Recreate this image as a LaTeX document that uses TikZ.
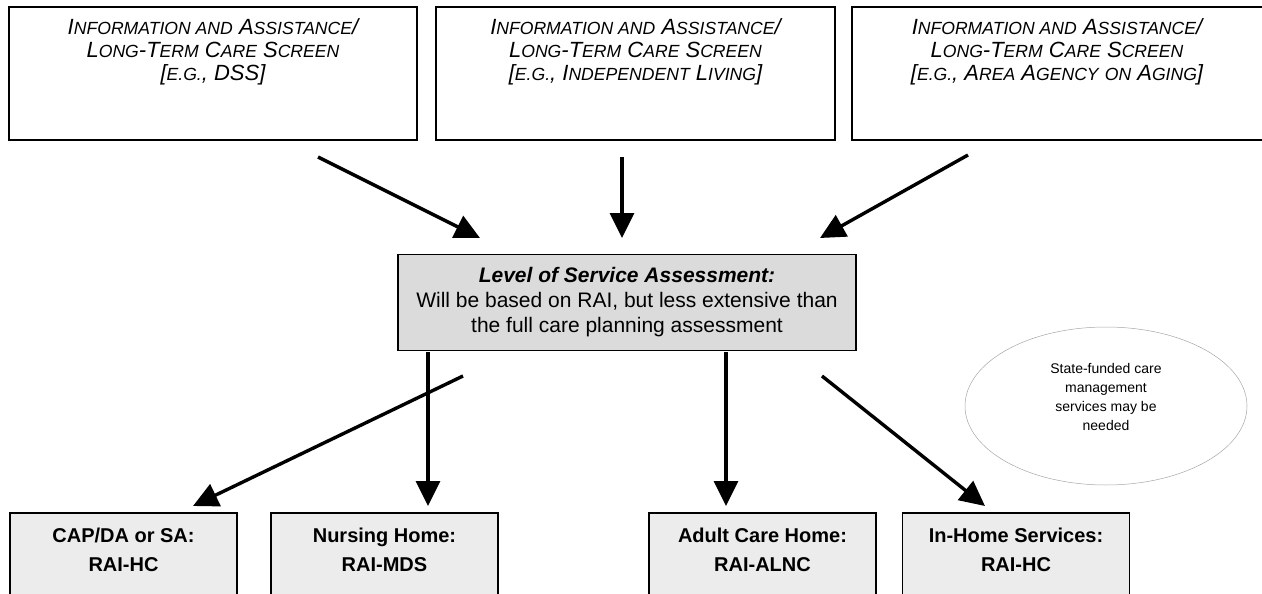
\documentclass[tikz,border=0pt]{standalone}
\usepackage{fontspec}
\setmainfont{Liberation Sans}
\usetikzlibrary{arrows.meta, positioning, shapes.geometric}

% capital letter followed by smaller capitals
\newcommand{\ssc}[2]{#1{\fontsize{17.6}{17.6}\selectfont #2}}

\begin{document}
\begin{tikzpicture}[x=1pt, y=-1pt,
    screen/.style={draw, line width=1.6pt, minimum height=133pt, inner sep=0pt},
    screentext/.style={anchor=north, align=center, font=\fontsize{22}{23}\selectfont\itshape},
    assess/.style={draw, fill=gray!28, line width=1.6pt, minimum width=458pt, minimum height=96pt, align=center, font=\fontsize{21}{25}\selectfont},
    setting/.style={draw, fill=gray!15, line width=1.6pt, minimum width=227pt, minimum height=110pt, anchor=north},
    settingtext/.style={anchor=north, align=center, font=\fontsize{20}{29}\selectfont\bfseries},
    bubble/.style={ellipse, draw=gray!70, line width=0.5pt, minimum width=282pt, minimum height=158pt},
    bubbletext/.style={align=center, font=\fontsize{14}{19}\selectfont},
    flow/.style={line width=3.4pt, -{Triangle[length=25pt,width=24pt]}}]
    \useasboundingbox (0,0) rectangle (1262,594);
    \clip (0,0) rectangle (1262,594);

    % screening agencies
    \node[screen, minimum width=408pt] (isrc1) at (213,73.5) {};
    \node[screen, minimum width=399pt] (isrc2) at (635.5,73.5) {};
    \node[screen, minimum width=418pt] (isrc3) at (1061,73.5) {};
    \node[screentext] (isrc1txt) at (213,15) {\ssc{I}{NFORMATION AND} \ssc{A}{SSISTANCE}/\\
        \ssc{L}{ONG}-\ssc{T}{ERM} \ssc{C}{ARE} \ssc{S}{CREEN}\\
        {[}\ssc{}{E.G.}, DSS]};
    \node[screentext] (isrc2txt) at (635.5,15) {\ssc{I}{NFORMATION AND} \ssc{A}{SSISTANCE}/\\
        \ssc{L}{ONG}-\ssc{T}{ERM} \ssc{C}{ARE} \ssc{S}{CREEN}\\
        {[}\ssc{}{E.G.}, \ssc{I}{NDEPENDENT} \ssc{L}{IVING}]};
    \node[screentext] (isrc3txt) at (1057,15) {\ssc{I}{NFORMATION AND} \ssc{A}{SSISTANCE}/\\
        \ssc{L}{ONG}-\ssc{T}{ERM} \ssc{C}{ARE} \ssc{S}{CREEN}\\
        {[}\ssc{}{E.G.}, \ssc{A}{REA} \ssc{A}{GENCY} \ssc{}{ON} \ssc{A}{GING}]};

    % level of service assessment
    \node[assess] (lsa) at (627,302.5) {\textbf{\textit{Level of Service Assessment:}}\\
        Will be based on RAI, but less extensive than\\
        the full care planning assessment};

    % note on care management
    \node[bubble] (cmnote) at (1106,406) {};
    \node[bubbletext] (cmtext) at (1106,397) {State-funded care\\ management\\ services may be\\ needed};

    % settings and their instruments
    \node[setting] (cap) at (123.5,512) {};
    \node[setting] (nh) at (384.5,512) {};
    \node[setting] (ach) at (762.5,512) {};
    \node[setting] (ihs) at (1016,512) {};
    \node[settingtext] (captxt) at (cap.north) [yshift=-12pt] {CAP/DA or SA:\\ RAI-HC};
    \node[settingtext] (nhtxt) at (nh.north) [yshift=-12pt] {Nursing Home:\\ RAI-MDS};
    \node[settingtext] (achtxt) at (ach.north) [yshift=-12pt] {Adult Care Home:\\ RAI-ALNC};
    \node[settingtext] (ihstxt) at (ihs.north) [yshift=-12pt] {In-Home Services:\\ RAI-HC};

    % arrow ends
    \coordinate (in1) at (318,157);
    \coordinate (in2) at (622,157);
    \coordinate (in3) at (968,155);
    \coordinate (to1) at (480,238);
    \coordinate (to2) at (622,238);
    \coordinate (to3) at (820,238);
    \coordinate (out1) at (463,376);
    \coordinate (out2) at (428,352);
    \coordinate (out3) at (726,352);
    \coordinate (out4) at (822,376);
    \coordinate (at1) at (193,506);
    \coordinate (at2) at (428,506);
    \coordinate (at3) at (726,506);
    \coordinate (at4) at (985,506);

    \draw[flow] (in1) -- (to1);
    \draw[flow] (in2) -- (to2);
    \draw[flow] (in3) -- (to3);
    \draw[flow] (out1) -- (at1);
    \draw[flow] (out2) -- (at2);
    \draw[flow] (out3) -- (at3);
    \draw[flow] (out4) -- (at4);
\end{tikzpicture}
\end{document}
